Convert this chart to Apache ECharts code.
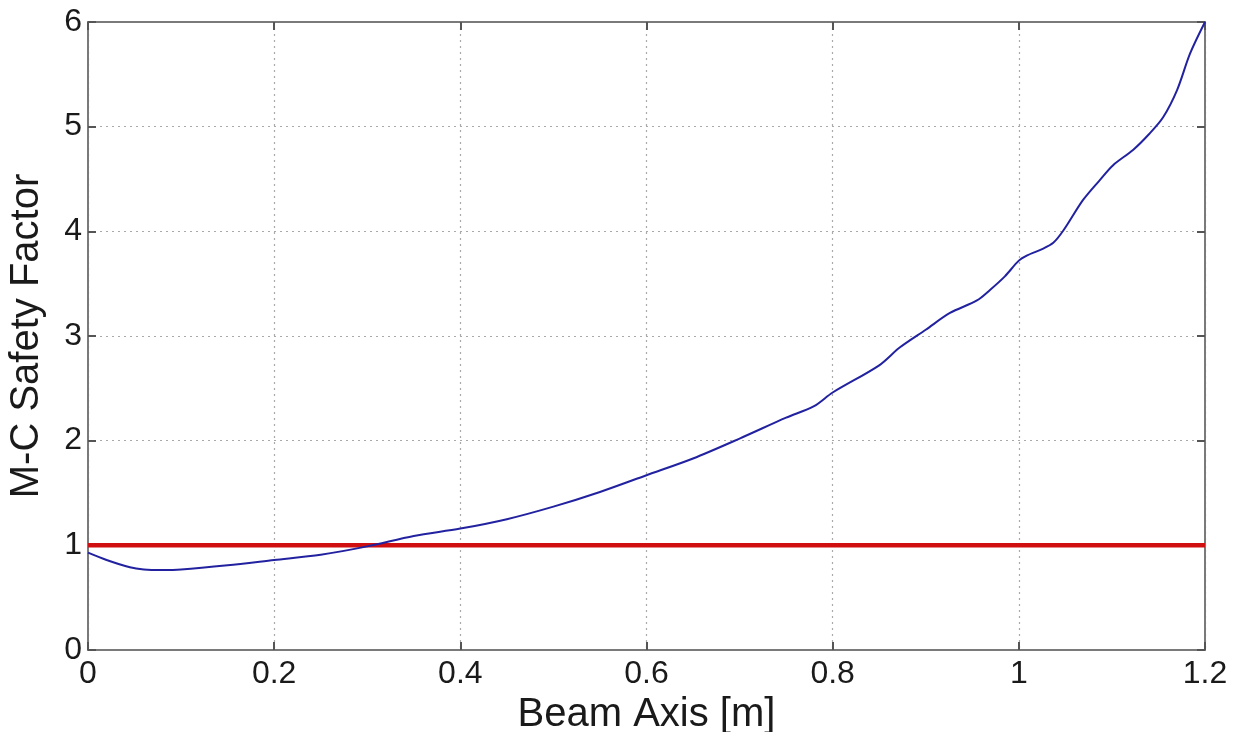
<!DOCTYPE html>
<html><head><meta charset="utf-8">
<script src="https://cdn.jsdelivr.net/npm/echarts@6/dist/echarts.min.js"></script>
<style>html,body{margin:0;padding:0;background:#fff}#c{width:1239px;height:732px}</style>
</head><body><div id="c"></div>
<script>
const xTitle = "Beam Axis [m]";
const yTitle = "M-C Safety Factor";
const beamX = [0, 0.02, 0.045, 0.06, 0.08, 0.1, 0.15, 0.2, 0.25, 0.3, 0.35, 0.4, 0.45, 0.5, 0.55, 0.6, 0.65, 0.7, 0.75, 0.78, 0.8, 0.85, 0.872, 0.9, 0.926, 0.955, 0.969, 0.985, 1.0, 1.009, 1.025, 1.037, 1.048, 1.069, 1.087, 1.101, 1.123, 1.14, 1.155, 1.17, 1.184, 1.2];
const safety = [0.93, 0.86, 0.79, 0.77, 0.765, 0.77, 0.81, 0.86, 0.91, 0.99, 1.09, 1.16, 1.25, 1.37, 1.51, 1.67, 1.83, 2.02, 2.22, 2.33, 2.46, 2.72, 2.89, 3.06, 3.22, 3.34, 3.44, 3.57, 3.72, 3.77, 3.83, 3.89, 4.01, 4.30, 4.49, 4.63, 4.78, 4.93, 5.09, 5.35, 5.70, 6.0];
const limitX = [0, 1.2];
const limitY = [1, 1];

const chart = echarts.init(document.getElementById('c'));
const font = "'Liberation Sans', Arial, sans-serif";
const axisLine = {show: true, onZero: false, lineStyle: {color: '#7a7a7a', width: 2}};
const tick = {inside: true, length: 8, lineStyle: {color: '#555', width: 2}};
const grid = {show: true, lineStyle: {color: '#aaa', type: [2, 4], width: 1.2}};
chart.setOption({
  animation: false,
  grid: {left: 88, top: 22, width: 1117, height: 628, show: false, containLabel: false, outerBoundsMode: 'none'},
  xAxis: [{
    type: 'value', min: 0, max: 1.2, interval: 0.2,
    axisLine: axisLine, axisTick: tick,
    axisLabel: {fontSize: 32, color: '#1a1a1a', fontFamily: font, margin: 8},
    splitLine: grid,
    name: xTitle, nameLocation: 'middle', nameGap: 38,
    nameTextStyle: {fontSize: 40, color: '#1a1a1a', fontFamily: font}
  }, {
    type: 'value', min: 0, max: 1.2, interval: 0.2, position: 'top',
    axisLine: axisLine, axisTick: tick,
    axisLabel: {show: false}, splitLine: {show: false}
  }],
  yAxis: [{
    type: 'value', min: 0, max: 6, interval: 1,
    axisLine: axisLine, axisTick: tick,
    axisLabel: {fontSize: 32, color: '#1a1a1a', fontFamily: font, margin: 6},
    splitLine: grid,
    name: yTitle, nameLocation: 'middle', nameGap: 41, nameRotate: 90,
    nameTextStyle: {fontSize: 40, color: '#1a1a1a', fontFamily: font}
  }, {
    type: 'value', min: 0, max: 6, interval: 1, position: 'right',
    axisLine: axisLine, axisTick: tick,
    axisLabel: {show: false}, splitLine: {show: false}
  }],
  series: [{
    type: 'line', data: limitX.map((x, i) => [x, limitY[i]]),
    showSymbol: false, lineStyle: {color: '#d01010', width: 4.5}, z: 3
  }, {
    type: 'line', data: beamX.map((x, i) => [x, safety[i]]),
    showSymbol: false, smooth: 0.3, lineStyle: {color: '#2222a0', width: 2}, z: 4
  }]
});
</script></body></html>
